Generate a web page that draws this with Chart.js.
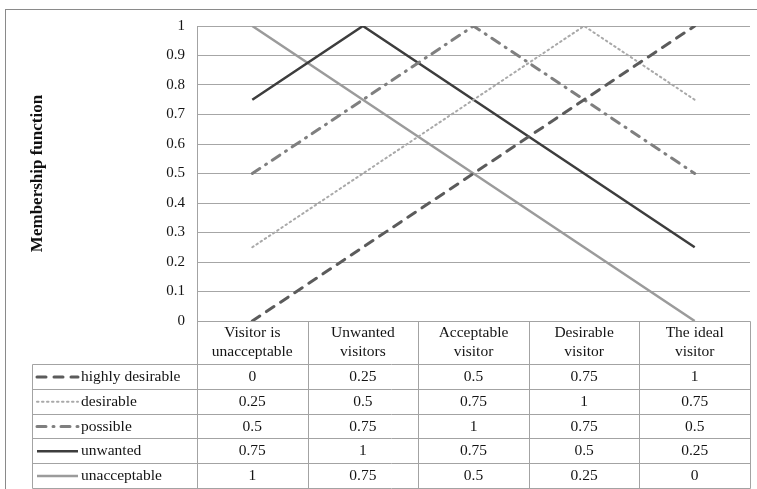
<!DOCTYPE html>
<html>
<head>
<meta charset="utf-8">
<script src="https://cdn.jsdelivr.net/npm/chart.js@4/dist/chart.umd.min.js"></script>
<style>
  html, body { margin: 0; padding: 0; background: #ffffff; }
  #wrap { width: 757px; height: 489px; position: relative; }
</style>
</head>
<body>
<div id="wrap"><canvas id="c" width="757" height="489"></canvas></div>
<script>
// Categories (two-line header labels of the data table)
const categories = [
  ["Visitor is", "unacceptable"],
  ["Unwanted", "visitors"],
  ["Acceptable", "visitor"],
  ["Desirable", "visitor"],
  ["The ideal", "visitor"]
];
const seriesNames = ["highly desirable", "desirable", "possible", "unwanted", "unacceptable"];

// Membership values per series
const highlyDesirable = [0, 0.25, 0.5, 0.75, 1];
const desirable       = [0.25, 0.5, 0.75, 1, 0.75];
const possible        = [0.5, 0.75, 1, 0.75, 0.5];
const unwanted        = [0.75, 1, 0.75, 0.5, 0.25];
const unacceptable    = [1, 0.75, 0.5, 0.25, 0];

const yAxisTitle = "Membership function";
const yMin = 0, yMax = 1, yStep = 0.1;

const FONT = "'Liberation Serif', 'Times New Roman', serif";

const seriesValues = [highlyDesirable, desirable, possible, unwanted, unacceptable];
const seriesStyles = [
  { color: '#5b5b5b', width: 3,   dash: [9, 8],        cap: 'round' },
  { color: '#a9a9a9', width: 2,   dash: [1.5, 3.5],    cap: 'round' },
  { color: '#7f7f7f', width: 3,   dash: [9, 7, 1, 7],  cap: 'round' },
  { color: '#3d3d3d', width: 2.5, dash: [],            cap: 'butt'  },
  { color: '#9b9b9b', width: 2.5, dash: [],            cap: 'butt'  }
];

const datasets = seriesNames.map((name, i) => ({
  label: name,
  data: seriesValues[i],
  borderColor: seriesStyles[i].color,
  borderWidth: seriesStyles[i].width,
  borderDash: seriesStyles[i].dash,
  borderCapStyle: seriesStyles[i].cap,
  pointRadius: 0,
  pointHoverRadius: 0,
  fill: false,
  tension: 0
}));

// Outer frame around the whole chart object
const framePlugin = {
  id: 'frame',
  beforeDraw(chart) {
    const ctx = chart.ctx;
    ctx.save();
    ctx.fillStyle = '#ffffff';
    ctx.fillRect(0, 0, chart.width, chart.height);
    ctx.strokeStyle = '#8a8a8a';
    ctx.lineWidth = 1;
    ctx.strokeRect(5.5, 9.5, chart.width + 20, chart.height + 20);
    ctx.restore();
  }
};

// Data table under the plot: category header, legend keys and values
const tablePlugin = {
  id: 'dataTable',
  afterDraw(chart) {
    const { ctx, chartArea: a, scales: { x } } = chart;
    const n = categories.length;
    const colW = (a.right - a.left) / n;
    const top = a.bottom;
    const headH = 43;
    const rowH = 24.8;
    const labL = 32;
    const rows = chart.data.datasets.length;
    const bottom = top + headH + rows * rowH;
    const px = v => Math.round(v) + 0.5;

    ctx.save();
    ctx.strokeStyle = '#a3a3a3';
    ctx.lineWidth = 1;
    ctx.setLineDash([]);
    ctx.beginPath();
    ctx.moveTo(px(a.left), px(top));
    ctx.lineTo(px(a.right), px(top));
    for (let r = 0; r <= rows; r++) {
      const y = px(top + headH + r * rowH);
      ctx.moveTo(px(labL), y);
      ctx.lineTo(px(a.right), y);
    }
    for (let i = 0; i <= n; i++) {
      const xx = px(a.left + i * colW);
      ctx.moveTo(xx, px(top));
      ctx.lineTo(xx, px(bottom));
    }
    ctx.moveTo(px(labL), px(top + headH));
    ctx.lineTo(px(labL), px(bottom));
    ctx.stroke();

    ctx.fillStyle = '#141414';
    ctx.font = '15.5px ' + FONT;
    ctx.textAlign = 'center';
    ctx.textBaseline = 'middle';
    categories.forEach((lines, i) => {
      const cx = x.getPixelForValue(i);
      ctx.fillText(lines[0], cx, top + 12);
      ctx.fillText(lines[1], cx, top + 31);
    });

    chart.data.datasets.forEach((ds, r) => {
      const cy = top + headH + r * rowH + rowH / 2 + 0.5;
      // legend key
      ctx.save();
      ctx.strokeStyle = ds.borderColor;
      ctx.lineWidth = ds.borderWidth;
      ctx.setLineDash(ds.borderDash || []);
      ctx.lineCap = ds.borderCapStyle || 'butt';
      ctx.beginPath();
      ctx.moveTo(37, cy);
      ctx.lineTo(78, cy);
      ctx.stroke();
      ctx.restore();
      ctx.textAlign = 'left';
      ctx.fillText(ds.label, 81, cy);
      ctx.textAlign = 'center';
      ds.data.forEach((v, i) => {
        ctx.fillText(String(v), x.getPixelForValue(i), cy);
      });
    });
    ctx.restore();
  }
};

new Chart(document.getElementById('c'), {
  type: 'line',
  data: {
    labels: categories.map(c => c.join(' ')),
    datasets: datasets
  },
  options: {
    responsive: false,
    animation: false,
    devicePixelRatio: 1,
    layout: { padding: { left: 5, top: 26, right: 7, bottom: 168 } },
    plugins: {
      legend: { display: false },
      tooltip: { enabled: false }
    },
    scales: {
      x: {
        display: false,
        offset: true,
        grid: { display: false }
      },
      y: {
        min: yMin,
        max: yMax,
        afterFit(scale) { scale.width = 192; },
        ticks: {
          stepSize: yStep,
          padding: 12,
          color: '#141414',
          font: { family: FONT, size: 15 },
          callback: v => String(Math.round(v * 10) / 10)
        },
        grid: { color: '#a6a6a6', lineWidth: 1, drawTicks: false },
        border: { display: true, color: '#a3a3a3' },
        title: {
          display: true,
          text: yAxisTitle,
          color: '#111111',
          font: { family: FONT, size: 17, weight: 'bold' },
          padding: { top: 22, bottom: 0 }
        }
      }
    }
  },
  plugins: [framePlugin, tablePlugin]
});
</script>
</body>
</html>
